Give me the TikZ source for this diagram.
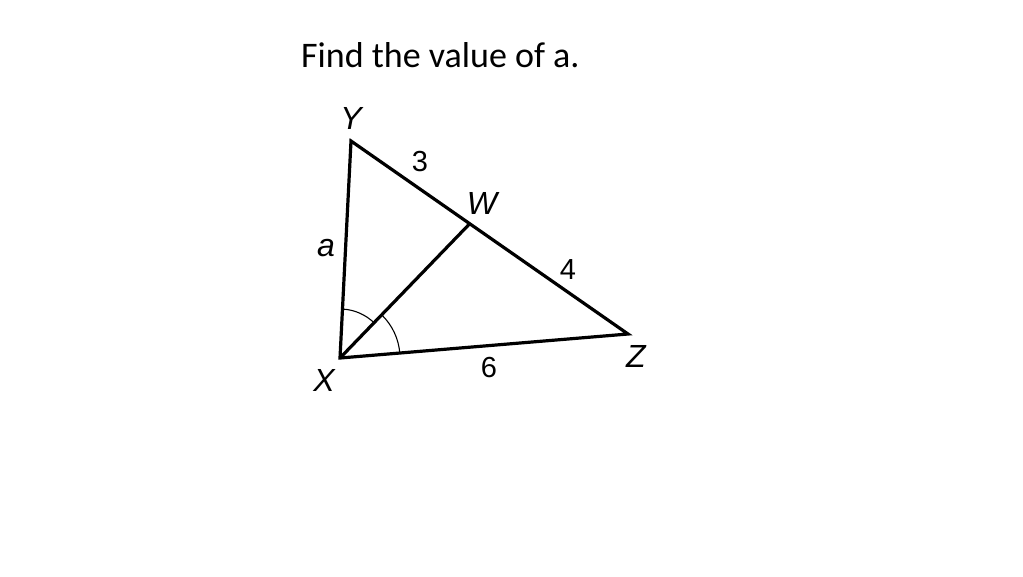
\documentclass[tikz,border=0pt]{standalone}
\usepackage{fontspec}
\setmainfont{Carlito}
\newfontfamily\labelfont{Liberation Sans}
\usetikzlibrary{calc}
\begin{document}
\begin{tikzpicture}[x=1pt,y=-1pt,
  side/.style={line width=3.2pt,line join=miter},
  anglemark/.style={line width=1.1pt},
  vlabel/.style={font=\labelfont\fontsize{32}{32}\selectfont\itshape,inner sep=0pt},
  nlabel/.style={font=\labelfont\fontsize{29}{29}\selectfont,inner sep=0pt},
  title/.style={font=\fontsize{36}{36}\selectfont,inner sep=0pt,anchor=base west}]
\useasboundingbox[fill=white] (0,0) rectangle (1023,576);
\node[title] (t) at (301,67) {Find the value of a.};
\coordinate (X) at (340,358);
\coordinate (Y) at (351,141);
\coordinate (Z) at (628,334);
\coordinate (W) at ($(Y)!3/7!(Z)$);
\draw[side] (X) -- (Y) -- (Z) -- cycle;
\draw[side] (X) -- (W);
\draw[anglemark] ($(X)+(-87:49)$) arc[start angle=-87,end angle=-45.5,radius=49];
\draw[anglemark] ($(X)+(-45.5:60)$) arc[start angle=-45.5,end angle=-4.7,radius=60];
\node[vlabel] (ly) at (351,118) {Y};
\node[vlabel] (lw) at (482,203) {W};
\node[vlabel] (lz) at (636,356) {Z};
\node[vlabel] (lx) at (324,380) {X};
\node[vlabel] (la) at (326,248) {a};
\node[nlabel] (l3) at (420,162) {3};
\node[nlabel] (l4) at (568,270) {4};
\node[nlabel] (l6) at (489,368) {6};
\end{tikzpicture}
\end{document}
